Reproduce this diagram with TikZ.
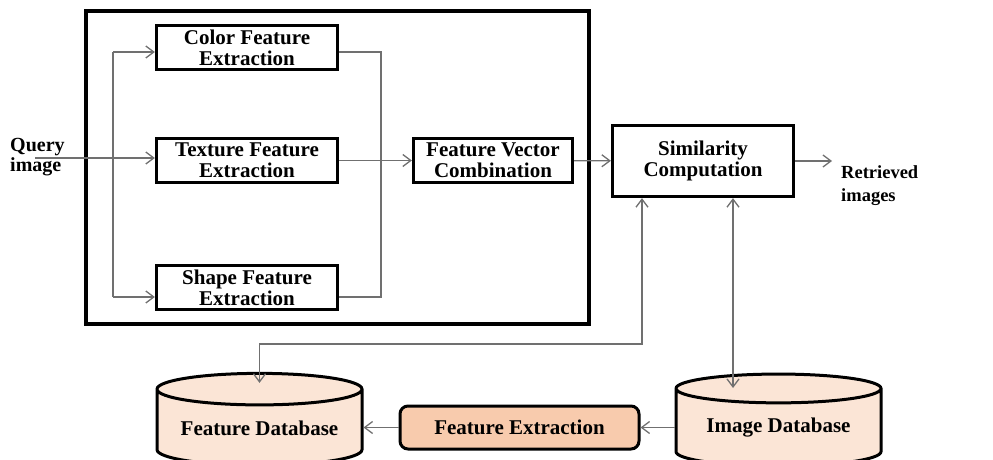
\documentclass[tikz,border=0pt]{standalone}
\usepackage{fontspec}
\setmainfont{Liberation Serif}
\usetikzlibrary{arrows.meta,shapes.geometric}

\definecolor{dbfill}{HTML}{FBE5D6}
\definecolor{offfill}{HTML}{F8CBAD}
\definecolor{linkgray}{HTML}{707070}

\tikzset{
  stage/.style={draw, line width=3.2pt, minimum width=181pt, minimum height=44pt, align=center, inner sep=0pt},
  database/.style={cylinder, shape border rotate=90, draw, line width=3pt, fill=dbfill, aspect=0.2, minimum width=205pt, minimum height=92pt, inner sep=0pt},
  offline/.style={draw, line width=3pt, rounded corners=8pt, fill=offfill, minimum width=239pt, minimum height=43pt},
  link/.style={draw=linkgray, line width=1.3pt},
  flow/.style={link, -{Straight Barb[length=8pt,width=12pt]}},
  biflow/.style={link, {Straight Barb[length=8pt,width=12pt]}-{Straight Barb[length=8pt,width=12pt]}},
}

\begin{document}
\begin{tikzpicture}[x=1pt, y=-1pt, font=\bfseries\fontsize{21}{21}\selectfont]
\useasboundingbox (0,0) rectangle (993,460);

% feature extraction block
\draw [line width=3.2pt] (86,11) rectangle (589,324);
\node [stage] (colorbox) at (247,47.5) {Color Feature\\Extraction};
\node [stage] (texturebox) at (247,160.5) {Texture Feature\\Extraction};
\node [stage] (shapebox) at (247,287.5) {Shape Feature\\Extraction};
\node [stage, minimum width=159pt] (combine) at (493,160.5) {Feature Vector\\Combination};
\node [stage, minimum height=71pt] (similar) at (703,161) {Similarity\\Computation};

\node [anchor=west, align=left, inner sep=0pt, font=\bfseries\fontsize{20}{20}\selectfont] (query) at (10,157) {Query\\image};
\node [anchor=west, align=left, inner sep=0pt, font=\bfseries\fontsize{18.5}{23}\selectfont] (result) at (841,186) {Retrieved\\images};

% databases and offline extraction
\node [database] (featdb) at (259.5,428) {Feature Database};
\node [database] (imgdb) at (778.5,428) {Image Database};
\node [offline] (offext) at (519.5,427.5) {Feature Extraction};

\coordinate (qin) at (35,158);
\coordinate (fork1) at (113,52);
\coordinate (fork2) at (113,297);
\coordinate (join1) at (381,52);
\coordinate (join2) at (381,297);
\coordinate (out) at (832,161);
\coordinate (lane1) at (642,344);
\coordinate (lane2) at (733,388);

\draw [flow] (qin) -- (texturebox.west |- qin);
\draw [link] (fork1) -- (fork2);
\draw [flow] (fork1) -- (colorbox.west |- fork1);
\draw [flow] (fork2) -- (shapebox.west |- fork2);
\draw [link] (colorbox.east |- join1) -- (join1) -- (join2) -- (shapebox.east |- join2);
\draw [flow] (texturebox) -- (combine);
\draw [flow] (combine) -- (similar);
\draw [flow] (similar) -- (out);

\draw [biflow] ([yshift=-11pt]featdb.north) |- (lane1) -- (similar.south -| lane1);
\draw [biflow] (lane2) -- (similar.south -| lane2);
\draw [flow] (imgdb.west |- offext.east) -- (offext.east);
\draw [flow] (offext.west) -- (featdb.east |- offext.west);
\end{tikzpicture}
\end{document}
